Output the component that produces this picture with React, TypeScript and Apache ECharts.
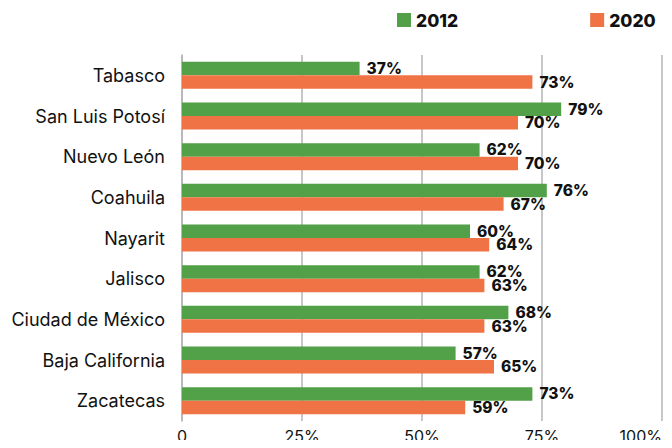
import React, { useEffect, useRef } from "react";
import * as echarts from "echarts";

const categories = [
  "Tabasco",
  "San Luis Potosí",
  "Nuevo León",
  "Coahuila",
  "Nayarit",
  "Jalisco",
  "Ciudad de México",
  "Baja California",
  "Zacatecas",
];
const values2012 = [37, 79, 62, 76, 60, 62, 68, 57, 73];
const values2020 = [73, 70, 70, 67, 64, 63, 63, 65, 59];
const seriesNames = ["2012", "2020"];
const colors = ["#52a047", "#f07345"];

export default function App() {
  const ref = useRef<HTMLDivElement>(null);
  useEffect(() => {
    if (!ref.current) return;
    const chart = echarts.init(ref.current, null, { renderer: "svg" });
    const labelStyle = {
      show: true,
      position: "right",
      distance: 7,
      formatter: (p: any) => p.value + "%",
      color: "#111",
      fontFamily: "Inter",
      fontWeight: 800,
      fontSize: 15.5,
    };
    chart.setOption({
      animation: false,
      legend: {
        left: 392,
        top: 6,
        itemWidth: 14,
        itemHeight: 14,
        itemGap: 132,
        icon: "rect",
        data: seriesNames,
        textStyle: {
          fontFamily: "Inter",
          fontWeight: 800,
          fontSize: 17.5,
          color: "#111",
        },
      },
      grid: {
        left: 182,
        right: 10,
        top: 55,
        bottom: 27,
        containLabel: false,
        outerBoundsMode: "none",
      },
      xAxis: {
        type: "value",
        min: 0,
        max: 100,
        interval: 25,
        axisLine: { show: false },
        axisTick: { show: false },
        splitLine: { show: true, lineStyle: { color: "#b4b4b8", width: 1.5 } },
        axisLabel: {
          formatter: (v: number) => (v === 0 ? "0" : v + "%"),
          color: "#111",
          fontFamily: "Inter",
          fontSize: 16,
          margin: 7,
          alignMaxLabel: "right",
        },
      },
      yAxis: {
        type: "category",
        data: categories,
        inverse: true,
        axisLine: { show: true, lineStyle: { color: "#b4b4b8", width: 1.5 } },
        axisTick: { show: false },
        axisLabel: {
          color: "#111",
          fontFamily: "Inter",
          fontSize: 18,
          margin: 17,
        },
      },
      series: [
        {
          name: seriesNames[0],
          type: "bar",
          data: values2012,
          barWidth: 13.5,
          barGap: "0%",
          itemStyle: { color: colors[0] },
          label: labelStyle,
        },
        {
          name: seriesNames[1],
          type: "bar",
          data: values2020,
          barWidth: 13.5,
          barGap: "0%",
          itemStyle: { color: colors[1] },
          label: labelStyle,
        },
      ],
    });
    return () => chart.dispose();
  }, []);
  return <div ref={ref} style={{ width: 672, height: 448, margin: -8 }} />;
}
